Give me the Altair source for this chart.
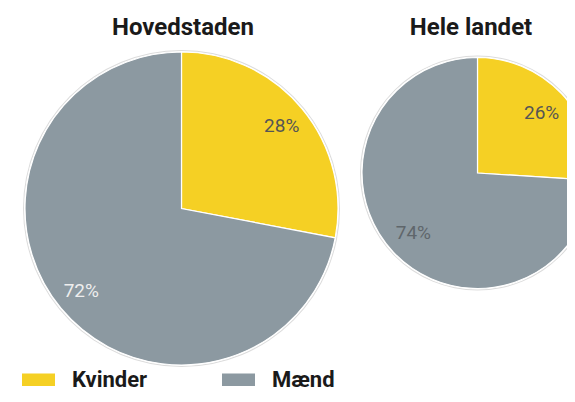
import altair as alt
import pandas as pd

categories = ["Kvinder", "Mænd"]
colors = ["#F5D024", "#8C99A1"]
groups = ["Hovedstaden", "Hele landet"]
hoved_values = [28, 72]
landet_values = [26, 74]
hoved_label_colors = ["#555555", "#eeeeee"]
landet_label_colors = ["#555555", "#5f666b"]

rows = []
for g, vals, lcs in [(groups[0], hoved_values, hoved_label_colors),
                     (groups[1], landet_values, landet_label_colors)]:
    for i, (c, v, lc) in enumerate(zip(categories, vals, lcs)):
        rows.append({"group": g, "cat": c, "value": v, "ord": i,
                     "label": f"{v}%", "lc": lc})
df = pd.DataFrame(rows)

FONT = "Roboto"
color_scale = alt.Scale(domain=categories, range=colors)


def pie(group, cx, cy, r, label_r, title_x, show_legend):
    base = alt.Chart(df).transform_filter(alt.datum.group == group)
    ring = base.transform_filter(alt.datum.ord == 0).mark_arc(
        theta=0, theta2=6.2832, radius=r + 2, color="#dcdcdc"
    ).encode(x=alt.value(cx), y=alt.value(cy))
    gap = base.transform_filter(alt.datum.ord == 0).mark_arc(
        theta=0, theta2=6.2832, radius=r + 1, color="white"
    ).encode(x=alt.value(cx), y=alt.value(cy))
    arcs = base.mark_arc(radius=r, stroke="white", strokeWidth=1.2).encode(
        x=alt.value(cx), y=alt.value(cy),
        theta=alt.Theta("value:Q", stack=True),
        order=alt.Order("ord:Q"),
        color=alt.Color(
            "cat:N", scale=color_scale, title=None,
            legend=alt.Legend(
                orient="none", legendX=14, legendY=355, direction="horizontal",
                symbolType="M-1,-0.38H1V0.38H-1Z", symbolSize=1089,
                symbolStrokeWidth=0, labelFont=FONT, labelFontSize=22,
                labelFontWeight="bold", labelColor="#1a1a1a", labelOffset=17,
                columnPadding=74, symbolOpacity=1,
            ) if show_legend else None,
        ),
    )
    texts = base.mark_text(radius=label_r, font=FONT, fontSize=19).encode(
        x=alt.value(cx), y=alt.value(cy),
        theta=alt.Theta("value:Q", stack=True),
        order=alt.Order("ord:Q"),
        text="label:N",
        color=alt.Color("lc:N", scale=None),
    )
    title = base.transform_filter(alt.datum.ord == 0).mark_text(
        font=FONT, fontSize=24, fontWeight="bold", color="#1a1a1a",
        baseline="alphabetic", align="center",
    ).encode(x=alt.value(title_x), y=alt.value(27), text="group:N")
    return [ring, gap, arcs, texts, title]


layers = pie(groups[0], 173.5, 200.5, 156.5, 130, 175, True) + \
    pie(groups[1], 469.5, 165, 115.5, 88, 463, False)

chart = alt.layer(*layers).properties(
    width=559, height=386, padding=0,
    autosize=alt.AutoSizeParams(type="none"),
).configure(background="white").configure_view(strokeWidth=0)

chart.save("out.html", embed_options={"renderer": "svg", "actions": False})
